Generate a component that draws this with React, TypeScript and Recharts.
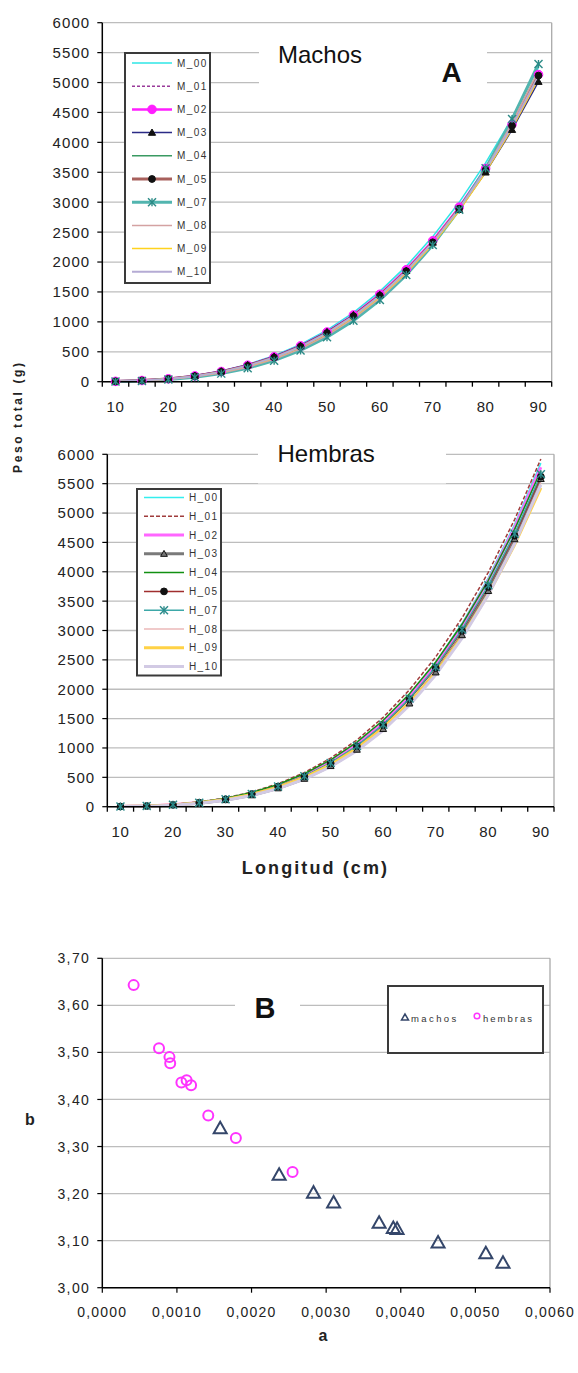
import React from 'react';
import {
  LineChart,
  Line,
  XAxis,
  YAxis,
  CartesianGrid,
  ReferenceLine,
  Legend,
  ScatterChart,
  Scatter,
} from 'recharts';

const FONT = '"Liberation Sans", Arial, Helvetica, sans-serif';
const INK = '#222222';
const PAGE_W = 578;

// ---- Longitud (cm) categories and axis ticks ----
const lengths = [10, 15, 20, 25, 30, 35, 40, 45, 50, 55, 60, 65, 70, 75, 80, 85, 90];
const lengthLabels = [10, 20, 30, 40, 50, 60, 70, 80, 90];
const pesoTicks = [0, 500, 1000, 1500, 2000, 2500, 3000, 3500, 4000, 4500, 5000, 5500, 6000];

// ---- Peso total (g), machos ----
const M_00 = [6.1, 21.3, 51.5, 102, 179, 288, 434, 623, 862, 1155, 1509, 1931, 2425, 2998, 3656, 4405, 5251];
const M_01 = [4.7, 17.2, 42.9, 87.3, 156, 255, 390, 568, 794, 1076, 1419, 1831, 2319, 2888, 3547, 4303, 5162];
const M_02 = [5.7, 19.9, 48.5, 96.8, 170, 275, 416, 599, 830, 1115, 1461, 1872, 2355, 2917, 3563, 4300, 5133];
const M_03 = [6.1, 21.0, 50.7, 100, 175, 280, 421, 603, 832, 1114, 1453, 1855, 2327, 2873, 3499, 4211, 5014];
const M_04 = [4.5, 16.6, 41.8, 85.5, 154, 252, 386, 563, 789, 1071, 1415, 1829, 2319, 2893, 3558, 4321, 5190];
const M_05 = [5.3, 18.8, 46.2, 92.8, 164, 266, 404, 584, 813, 1095, 1438, 1848, 2330, 2892, 3539, 4278, 5116];
const M_07 = [3.4, 13.3, 34.8, 73.3, 135, 226, 352, 522, 742, 1020, 1364, 1783, 2283, 2875, 3566, 4390, 5310];
const M_08 = [4.2, 15.5, 39.5, 81.5, 147, 243, 375, 549, 773, 1053, 1396, 1810, 2302, 2880, 3550, 4322, 5203];
const M_09 = [5.1, 18.2, 45.0, 90.7, 161, 261, 397, 575, 800, 1079, 1418, 1823, 2301, 2857, 3499, 4232, 5064];
const M_10 = [5.3, 18.8, 46.3, 93.0, 164, 266, 404, 584, 813, 1095, 1437, 1847, 2328, 2889, 3535, 4273, 5109];

// ---- Peso total (g), hembras ----
const H_00 = [3.0, 12.1, 32.6, 70.5, 132, 225, 357, 535, 770, 1070, 1444, 1904, 2458, 3119, 3897, 4803, 5850];
const H_01 = [3.8, 14.6, 38.4, 81.0, 149, 250, 391, 581, 826, 1137, 1522, 1990, 2551, 3214, 3990, 4888, 5920];
const H_02 = [3.0, 12.0, 32.2, 69.6, 131, 222, 352, 529, 761, 1057, 1427, 1881, 2429, 3081, 3850, 4746, 5780];
const H_03 = [2.3, 9.6, 26.8, 59.1, 113, 195, 314, 476, 693, 971, 1323, 1758, 2287, 2921, 3673, 4555, 5580];
const H_04 = [3.6, 14.2, 37.1, 78.3, 144, 242, 378, 561, 798, 1099, 1471, 1923, 2465, 3106, 3855, 4723, 5720];
const H_05 = [2.9, 11.6, 31.3, 67.7, 127, 216, 343, 514, 740, 1028, 1388, 1829, 2362, 2996, 3743, 4614, 5620];
const H_07 = [2.9, 11.7, 31.6, 68.2, 128, 218, 345, 518, 745, 1035, 1397, 1842, 2378, 3018, 3770, 4647, 5660];
const H_08 = [2.3, 9.5, 26.5, 58.5, 112, 193, 310, 471, 685, 961, 1309, 1739, 2262, 2890, 3634, 4506, 5520];
const H_09 = [2.8, 11.2, 30.3, 65.4, 123, 209, 331, 497, 715, 993, 1341, 1767, 2282, 2895, 3617, 4458, 5430];
const H_10 = [2.3, 9.5, 26.3, 58.1, 111, 192, 308, 468, 680, 954, 1299, 1726, 2246, 2869, 3607, 4474, 5480];

// ---- Parámetros a, b ----
const machosA = [0.00158, 0.00237, 0.00283, 0.0031, 0.00371, 0.0039, 0.00395, 0.0045, 0.00514, 0.00537];
const machosB = [3.339, 3.24, 3.202, 3.181, 3.138, 3.127, 3.125, 3.096, 3.073, 3.053];
const hembrasA = [0.00042, 0.00076, 0.0009, 0.00091, 0.00106, 0.00113, 0.00119, 0.00142, 0.00179, 0.00255];
const hembrasB = [3.643, 3.509, 3.49, 3.477, 3.436, 3.441, 3.43, 3.366, 3.318, 3.246];
const aTicks = [0, 0.001, 0.002, 0.003, 0.004, 0.005, 0.006];
const bTicks = [3.0, 3.1, 3.2, 3.3, 3.4, 3.5, 3.6, 3.7];

type MarkerKind = 'circle' | 'triangle' | 'star';
type Marker = { kind: MarkerKind; size: number; fill: string; stroke: string; sw?: number };
type SeriesDef = {
  name: string;
  values: number[];
  color: string;
  width: number;
  dash?: string;
  marker?: Marker;
};

const machosSeries: SeriesDef[] = [
  { name: 'M_00', values: M_00, color: '#2EE6E6', width: 1.5 },
  { name: 'M_01', values: M_01, color: '#9A3A9A', width: 1.5, dash: '3 2' },
  { name: 'M_02', values: M_02, color: '#FF1EFF', width: 2.5, marker: { kind: 'circle', size: 4.3, fill: '#FF1EFF', stroke: '#FF1EFF' } },
  { name: 'M_03', values: M_03, color: '#2B2B86', width: 1.5, marker: { kind: 'triangle', size: 3.6, fill: '#111', stroke: '#111' } },
  { name: 'M_04', values: M_04, color: '#3A9A62', width: 1.5 },
  { name: 'M_05', values: M_05, color: '#A8605C', width: 3, marker: { kind: 'circle', size: 3.4, fill: '#111', stroke: '#111' } },
  { name: 'M_07', values: M_07, color: '#52B5AF', width: 3, marker: { kind: 'star', size: 4, fill: 'none', stroke: '#2A8A86', sw: 1.4 } },
  { name: 'M_08', values: M_08, color: '#D4A2A2', width: 1.5 },
  { name: 'M_09', values: M_09, color: '#FFD21E', width: 1.5 },
  { name: 'M_10', values: M_10, color: '#B5ABD4', width: 2 },
];

const hembrasSeries: SeriesDef[] = [
  { name: 'H_00', values: H_00, color: '#33EEEE', width: 1.5 },
  { name: 'H_01', values: H_01, color: '#A03C3C', width: 1.5, dash: '4 2' },
  { name: 'H_02', values: H_02, color: '#FF66FF', width: 3 },
  { name: 'H_03', values: H_03, color: '#7A7A7A', width: 3, marker: { kind: 'triangle', size: 3.4, fill: '#777', stroke: '#111', sw: 1 } },
  { name: 'H_04', values: H_04, color: '#129012', width: 1.5 },
  { name: 'H_05', values: H_05, color: '#A02E2E', width: 1.5, marker: { kind: 'circle', size: 3.4, fill: '#111', stroke: '#111' } },
  { name: 'H_07', values: H_07, color: '#3DA8A8', width: 1.5, marker: { kind: 'star', size: 4, fill: 'none', stroke: '#2A8A8A', sw: 1.4 } },
  { name: 'H_08', values: H_08, color: '#EBB8B8', width: 1.5 },
  { name: 'H_09', values: H_09, color: '#FFD246', width: 3 },
  { name: 'H_10', values: H_10, color: '#D2CAE4', width: 3 },
];

function MarkerShape({ m, cx, cy }: { m: Marker; cx: number; cy: number }) {
  const s = m.size;
  const sw = m.sw ?? 1;
  if (m.kind === 'circle') {
    return <circle cx={cx} cy={cy} r={s} fill={m.fill} stroke={m.stroke} strokeWidth={sw} />;
  }
  if (m.kind === 'triangle') {
    const pts = `${cx},${cy - s} ${cx - s},${cy + s * 0.75} ${cx + s},${cy + s * 0.75}`;
    return <polygon points={pts} fill={m.fill} stroke={m.stroke} strokeWidth={sw} />;
  }
  return (
    <g stroke={m.stroke} strokeWidth={sw}>
      <line x1={cx - s} y1={cy - s} x2={cx + s} y2={cy + s} />
      <line x1={cx - s} y1={cy + s} x2={cx + s} y2={cy - s} />
      <line x1={cx} y1={cy - s} x2={cx} y2={cy + s} />
    </g>
  );
}

function makeDot(m?: Marker) {
  if (!m) return false;
  return (props: any) => {
    const { cx, cy, index } = props;
    if (cx == null || cy == null) return <g key={`d-${index}`} />;
    return (
      <g key={`d-${index}`}>
        <MarkerShape m={m} cx={cx} cy={cy} />
      </g>
    );
  };
}

function LengthTick(props: any) {
  const { x, y, payload } = props;
  const v = payload.value as number;
  if (lengthLabels.includes(v)) {
    return (
      <text x={x} y={y + 30} textAnchor="middle" fontFamily={FONT} fontSize={15} letterSpacing={0.6} fill={INK}>
        {v}
      </text>
    );
  }
  return <line x1={x} x2={x} y1={y} y2={y + 5} stroke="#000" strokeWidth={1.3} />;
}

function PesoTick(props: any) {
  const { x, y, payload } = props;
  return (
    <text x={x} y={y} dy="0.36em" textAnchor="end" fontFamily={FONT} fontSize={15} letterSpacing={1.1} fill={INK}>
      {payload.value}
    </text>
  );
}

type Box = { x: number; y: number; w: number; h: number; row0: number; rowGap: number };

function SeriesLegend({ series, box }: { series: SeriesDef[]; box: Box }) {
  return (
    <svg width={box.w} height={box.h} style={{ display: 'block' }}>
      <rect x={1} y={1} width={box.w - 2} height={box.h - 2} fill="#fff" stroke="#3a3a3a" strokeWidth={2} />
      {series.map((s, i) => {
        const y = box.row0 + i * box.rowGap;
        return (
          <g key={s.name}>
            <line x1={8} x2={48} y1={y} y2={y} stroke={s.color} strokeWidth={Math.max(s.width, 1.5)} strokeDasharray={s.dash} />
            {s.marker && <MarkerShape m={s.marker} cx={28} cy={y} />}
            <text x={53} y={y} dy="0.36em" fontFamily={FONT} fontSize={10} letterSpacing={1.4} fill="#333">
              {s.name}
            </text>
          </g>
        );
      })}
    </svg>
  );
}

type Plot = { left: number; right: number; top: number; bottom: number };

function CurvePanel({ series, pageTop, height, plot, legend }: { series: SeriesDef[]; pageTop: number; height: number; plot: Plot; legend: Box }) {
  const rows = lengths.map((L, i) => {
    const r: Record<string, number> = { L };
    series.forEach((s) => {
      r[s.name] = s.values[i];
    });
    return r;
  });
  const xAxisH = 34;
  const margin = {
    top: plot.top - pageTop,
    right: PAGE_W - plot.right,
    left: 0,
    bottom: pageTop + height - plot.bottom - xAxisH,
  };
  const step = lengths[1] - lengths[0];
  const bounds = [...lengths.map((l) => l - step / 2), lengths[lengths.length - 1] + step / 2];
  const xTicks = [...bounds, ...lengthLabels].sort((a, b) => a - b);
  const xMin = bounds[0];
  const xMax = bounds[bounds.length - 1];
  return (
    <div style={{ position: 'absolute', left: 0, top: pageTop }}>
      <LineChart width={PAGE_W} height={height} data={rows} margin={margin}>
        <CartesianGrid vertical={false} stroke="#BDBDBD" strokeWidth={1.3} />
        <ReferenceLine x={xMax} stroke="#A9A9A9" strokeWidth={1.3} ifOverflow="visible" />
        <XAxis
          type="number"
          dataKey="L"
          domain={[xMin, xMax]}
          ticks={xTicks}
          interval={0}
          height={xAxisH}
          tickLine={false}
          tickSize={0}
          tickMargin={0}
          axisLine={{ stroke: '#000', strokeWidth: 1.5 }}
          tick={(p: any) => <LengthTick {...p} />}
        />
        <YAxis
          type="number"
          domain={[0, 6000]}
          ticks={pesoTicks}
          interval={0}
          width={plot.left}
          tickSize={5}
          tickMargin={7}
          axisLine={{ stroke: '#000', strokeWidth: 1.5 }}
          tickLine={{ stroke: '#000', strokeWidth: 1.2 }}
          tick={(p: any) => <PesoTick {...p} />}
        />
        {series.map((s) => (
          <Line
            key={s.name}
            type="linear"
            dataKey={s.name}
            stroke={s.color}
            strokeWidth={s.width}
            strokeDasharray={s.dash}
            dot={makeDot(s.marker) as any}
            activeDot={false}
            isAnimationActive={false}
          />
        ))}
        <Legend
          layout="vertical"
          align="center"
          verticalAlign="middle"
          width={legend.w}
          height={legend.h}
          wrapperStyle={{ left: legend.x, top: legend.y - pageTop, width: legend.w, height: legend.h }}
          content={() => <SeriesLegend series={series} box={legend} />}
        />
      </LineChart>
    </div>
  );
}

const fmtComma = (digits: number) => (v: number) => v.toFixed(digits).replace('.', ',');

function ATick(props: any) {
  const { x, y, payload } = props;
  return (
    <text x={x} y={y + 24} textAnchor="middle" fontFamily={FONT} fontSize={14} letterSpacing={1.2} fill={INK}>
      {fmtComma(4)(payload.value)}
    </text>
  );
}

function BTick(props: any) {
  const { x, y, payload } = props;
  return (
    <text x={x} y={y} dy="0.36em" textAnchor="end" fontFamily={FONT} fontSize={14} letterSpacing={1.4} fill={INK}>
      {fmtComma(2)(payload.value)}
    </text>
  );
}

const TriangleShape = (p: any) => {
  const { cx, cy } = p;
  const pts = `${cx},${cy - 6.5} ${cx - 6.5},${cy + 5} ${cx + 6.5},${cy + 5}`;
  return <polygon points={pts} fill="none" stroke="#34466A" strokeWidth={2} />;
};

const CircleShape = (p: any) => {
  const { cx, cy } = p;
  return <circle cx={cx} cy={cy} r={5} fill="none" stroke="#FF33FF" strokeWidth={2} />;
};

function ParamLegend({ w, h }: { w: number; h: number }) {
  const y = 34;
  return (
    <svg width={w} height={h} style={{ display: 'block' }}>
      <rect x={1} y={1} width={w - 2} height={h - 2} fill="#fff" stroke="#3a3a3a" strokeWidth={2} />
      <polygon points={`18,${y - 5} 14.5,${y + 1} 21.5,${y + 1}`} fill="none" stroke="#34466A" strokeWidth={1.5} />
      <text x={24} y={y} dy="0.3em" fontFamily={FONT} fontSize={9.5} letterSpacing={2.4} fill="#333">
        machos
      </text>
      <circle cx={90} cy={y - 3} r={2.8} fill="none" stroke="#FF33FF" strokeWidth={1.5} />
      <text x={96} y={y} dy="0.3em" fontFamily={FONT} fontSize={9.5} letterSpacing={2} fill="#333">
        hembras
      </text>
    </svg>
  );
}

function ParamPanel() {
  const pageTop = 930;
  const height = 443;
  const plot: Plot = { left: 102.3, right: 550, top: 958.3, bottom: 1287.7 };
  const xAxisH = 30;
  const margin = {
    top: plot.top - pageTop,
    right: PAGE_W - plot.right,
    left: 0,
    bottom: pageTop + height - plot.bottom - xAxisH,
  };
  const machos = machosA.map((a, i) => ({ a, b: machosB[i] }));
  const hembras = hembrasA.map((a, i) => ({ a, b: hembrasB[i] }));
  const leg = { x: 387, y: 985, w: 157, h: 69 };
  return (
    <div style={{ position: 'absolute', left: 0, top: pageTop }}>
      <ScatterChart width={PAGE_W} height={height} margin={margin}>
        <CartesianGrid vertical={false} stroke="#BDBDBD" strokeWidth={1.3} />
        <ReferenceLine x={0.006} stroke="#A9A9A9" strokeWidth={1.3} ifOverflow="visible" />
        <XAxis
          type="number"
          dataKey="a"
          domain={[0, 0.006]}
          ticks={aTicks}
          interval={0}
          height={xAxisH}
          tickSize={5}
          tickMargin={0}
          axisLine={{ stroke: '#000', strokeWidth: 1.5 }}
          tickLine={{ stroke: '#000', strokeWidth: 1.2 }}
          tick={(p: any) => <ATick {...p} />}
        />
        <YAxis
          type="number"
          dataKey="b"
          domain={[3.0, 3.7]}
          ticks={bTicks}
          interval={0}
          width={plot.left}
          tickSize={5}
          tickMargin={7}
          axisLine={{ stroke: '#000', strokeWidth: 1.5 }}
          tickLine={{ stroke: '#000', strokeWidth: 1.2 }}
          tick={(p: any) => <BTick {...p} />}
        />
        <Scatter name="machos" data={machos} shape={TriangleShape} isAnimationActive={false} />
        <Scatter name="hembras" data={hembras} shape={CircleShape} isAnimationActive={false} />
        <Legend
          layout="vertical"
          align="center"
          verticalAlign="middle"
          width={leg.w}
          height={leg.h}
          wrapperStyle={{ left: leg.x, top: leg.y - pageTop, width: leg.w, height: leg.h }}
          content={() => <ParamLegend w={leg.w} h={leg.h} />}
        />
      </ScatterChart>
    </div>
  );
}

function Annotations() {
  return (
    <svg width={PAGE_W} height={1373} style={{ position: 'absolute', left: 0, top: 0, pointerEvents: 'none' }}>
      {/* panel A titles */}
      <rect x={259} y={28} width={228} height={57} fill="#fff" />
      <text x={278} y={63.3} fontFamily={FONT} fontSize={24} fill="#111">
        Machos
      </text>
      <text x={441.5} y={81.7} fontFamily={FONT} fontSize={28} fontWeight="bold" fill="#111">
        A
      </text>
      <rect x={258} y={425} width={188} height={58.5} fill="#fff" />
      <text x={277.5} y={461.7} fontFamily={FONT} fontSize={24} fill="#111">
        Hembras
      </text>
      {/* shared axis titles */}
      <text
        x={21.7}
        y={416.7}
        transform="rotate(-90 21.7 416.7)"
        textAnchor="middle"
        fontFamily={FONT}
        fontSize={12}
        fontWeight="bold"
        letterSpacing={2.6}
        fill="#222"
      >
        Peso total (g)
      </text>
      <text x={315.5} y={874} textAnchor="middle" fontFamily={FONT} fontSize={18} fontWeight="bold" letterSpacing={2.1} fill="#222">
        Longitud (cm)
      </text>
      {/* panel B */}
      <rect x={235} y={976} width={65} height={59} fill="#fff" />
      <text x={254.5} y={1018.3} fontFamily={FONT} fontSize={29} fontWeight="bold" fill="#111">
        B
      </text>
      <text x={30} y={1125} textAnchor="middle" fontFamily={FONT} fontSize={16} fontWeight="bold" fill="#222">
        b
      </text>
      <text x={323} y={1341} textAnchor="middle" fontFamily={FONT} fontSize={16} fontWeight="bold" fill="#222">
        a
      </text>
    </svg>
  );
}

export default function App() {
  return (
    <div style={{ position: 'absolute', left: 0, top: 0, width: PAGE_W, height: 1373, background: '#fff', overflow: 'hidden' }}>
      <CurvePanel
        series={machosSeries}
        pageTop={0}
        height={420}
        plot={{ left: 102.3, right: 551.7, top: 22.7, bottom: 381.7 }}
        legend={{ x: 124, y: 51.7, w: 87, h: 232, row0: 11, rowGap: 23.2 }}
      />
      <CurvePanel
        series={hembrasSeries}
        pageTop={420}
        height={470}
        plot={{ left: 107.3, right: 554, top: 454.3, bottom: 806.7 }}
        legend={{ x: 136, y: 488.3, w: 86, h: 188.5, row0: 9.4, rowGap: 18.8 }}
      />
      <ParamPanel />
      <Annotations />
    </div>
  );
}
